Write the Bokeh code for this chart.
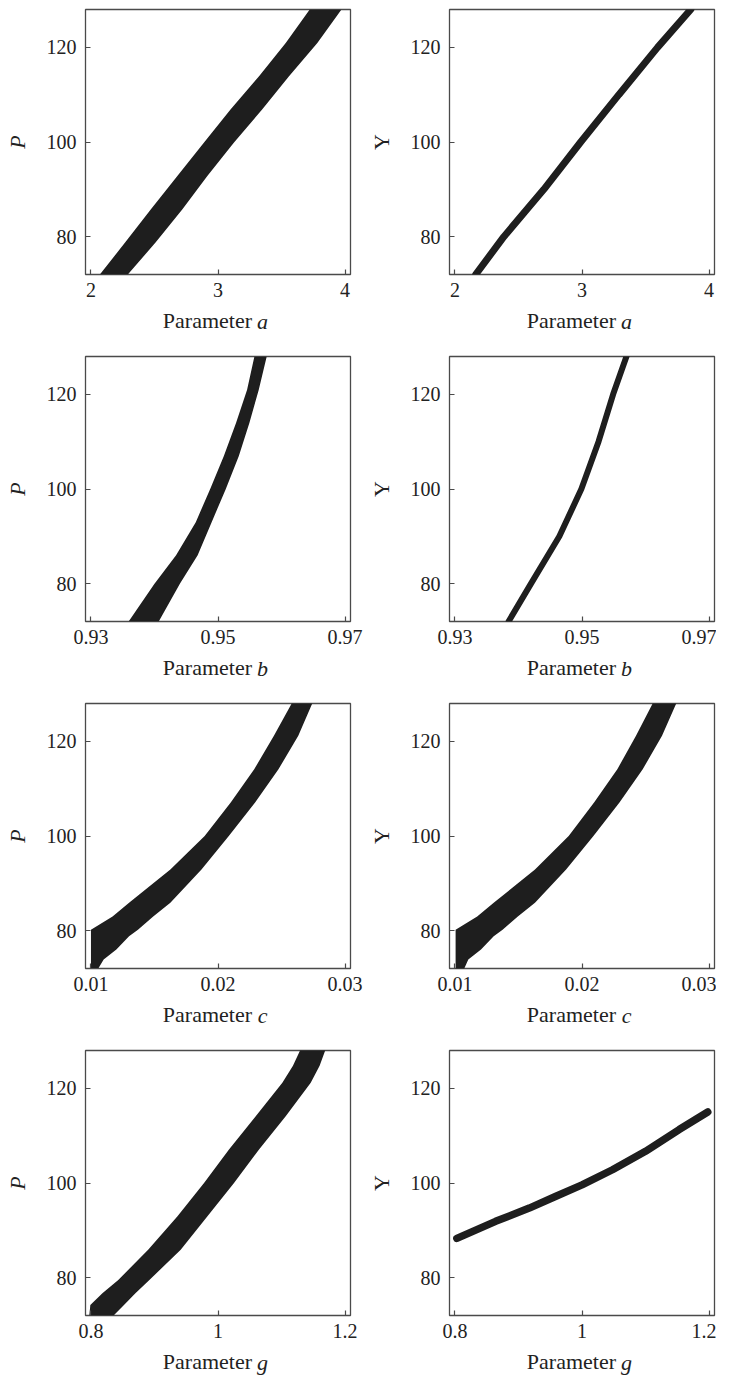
from bokeh.plotting import figure
from bokeh.layouts import column, row
from bokeh.models import Range1d, FixedTicker, LinearAxis
from bokeh.embed import file_html
from bokeh.resources import INLINE

# ---------------- data ----------------
y_ticks = [80, 100, 120]

# Panel: P vs parameter a (band, x-limits at each P level)
aP_P = [72, 78.8, 85.8, 92.8, 99.9, 106.9, 113.9, 120.9, 128]
aP_lo = [2.070, 2.270, 2.472, 2.680, 2.890, 3.100, 3.323, 3.533, 3.722]
aP_hi = [2.290, 2.510, 2.720, 2.916, 3.126, 3.349, 3.559, 3.782, 3.972]

# Panel: Y vs parameter a (thin curve)
aY_Y = [72, 80, 90, 100, 110, 120, 128]
aY_a = [2.163, 2.385, 2.700, 2.990, 3.290, 3.595, 3.856]

# Panel: P vs parameter b
bP_P = [72, 80, 86, 93, 100, 107, 114, 121, 128]
bP_lo = [0.93593, 0.94000, 0.94340, 0.94650, 0.94877, 0.95092, 0.95285, 0.95458, 0.95573]
bP_hi = [0.94067, 0.94400, 0.94680, 0.94900, 0.95123, 0.95328, 0.95495, 0.95642, 0.95767]

# Panel: Y vs parameter b (thin curve)
bY_Y = [72, 80, 90, 100, 110, 120, 128]
bY_b = [0.93844, 0.94197, 0.94644, 0.94990, 0.95260, 0.95490, 0.95700]

# Panel: P vs parameter c
cP_P = [72.1, 73.9, 76, 78.8, 80.2, 83, 85.9, 92.9, 100, 107.1, 114.1, 121.2, 128.2]
cP_lo = [0.01000, 0.01000, 0.01000, 0.01000, 0.01000, 0.01170, 0.01300, 0.01625, 0.01895,
         0.02100, 0.02285, 0.02440, 0.02584]
cP_hi = [0.01060, 0.01100, 0.01200, 0.01300, 0.01370, 0.01490, 0.01625, 0.01870, 0.02085,
         0.02292, 0.02476, 0.02632, 0.02745]

# Panel: Y vs parameter c
cY_Y = [71.5, 73.9, 76, 78.8, 80.2, 83, 85.9, 92.9, 100, 107.1, 114.1, 121.2, 128.2]
cY_lo = [0.01005, 0.01005, 0.01005, 0.01005, 0.01005, 0.01175, 0.01305, 0.01630, 0.01895,
         0.02095, 0.02278, 0.02425, 0.02560]
cY_hi = [0.01065, 0.01105, 0.01205, 0.01305, 0.01375, 0.01495, 0.01630, 0.01875, 0.02090,
         0.02295, 0.02478, 0.02630, 0.02745]

# Panel: P vs parameter g
gP_P = [72, 74.2, 76.7, 79.5, 85.9, 92.9, 100, 107.1, 114.1, 121.2, 124.8, 128.3]
gP_lo = [0.7974, 0.7990, 0.8180, 0.8430, 0.8900, 0.9359, 0.9780, 1.0173, 1.0594,
         1.1013, 1.1180, 1.1302]
gP_hi = [0.8356, 0.8520, 0.8700, 0.8920, 0.9413, 0.9831, 1.0252, 1.0646, 1.1066,
         1.1460, 1.1600, 1.1696]

# Panel: Y vs parameter g (thin curve)
gY_g = [0.803, 0.864, 0.917, 0.959, 1.000, 1.048, 1.100, 1.153, 1.198]
gY_Y = [88.3, 91.9, 94.7, 97.2, 99.6, 102.8, 106.7, 111.3, 115.0]

# ---------------- styling ----------------
FONT = "'Liberation Serif', 'Times New Roman', serif"
BAND = "#1e1e1e"
FRAME = "#4a4a4a"
TEXT = "#222222"
LBL_SIZE = "22px"


def text_axis(text, pos, italic, standoff):
    """An axis with a single label used to write part of the x title."""
    ax = LinearAxis(ticker=FixedTicker(ticks=[pos]),
                    major_label_overrides={pos: text})
    ax.axis_line_color = None
    ax.major_tick_line_color = None
    ax.minor_tick_line_color = None
    ax.major_tick_in = 0
    ax.major_tick_out = 0
    ax.major_label_text_font = FONT
    ax.major_label_text_font_size = LBL_SIZE
    ax.major_label_text_color = TEXT
    ax.major_label_text_font_style = "italic" if italic else "normal"
    ax.major_label_standoff = standoff
    return ax


def make_panel(xr, xticks, xlabels, ylabel, letter, right_col, last):
    p = figure(frame_width=265, frame_height=265,
               x_range=Range1d(*xr), y_range=Range1d(72, 128),
               output_backend="svg", toolbar_location=None,
               min_border_left=83 if right_col else 85,
               min_border_right=2 if right_col else 15,
               min_border_top=9, min_border_bottom=57 if last else 73)
    p.grid.visible = False
    p.outline_line_color = FRAME
    p.outline_line_width = 1.3
    p.background_fill_color = "white"
    p.border_fill_color = "white"

    xa = p.xaxis[0]
    ya = p.yaxis[0]
    xa.ticker = FixedTicker(ticks=xticks)
    xa.major_label_overrides = {t: s for t, s in zip(xticks, xlabels)}
    ya.ticker = FixedTicker(ticks=y_ticks)
    for ax in (xa, ya):
        ax.axis_line_color = None
        ax.major_tick_in = 5
        ax.major_tick_out = 0
        ax.major_tick_line_color = FRAME
        ax.major_tick_line_width = 1.2
        ax.minor_tick_line_color = None
        ax.major_label_text_font = FONT
        ax.major_label_text_font_size = "20px"
        ax.major_label_text_color = TEXT
    xa.major_label_standoff = 8
    ya.major_label_standoff = 9

    ya.axis_label = ylabel
    ya.axis_label_text_font = FONT
    ya.axis_label_text_font_size = LBL_SIZE
    ya.axis_label_text_color = TEXT
    ya.axis_label_text_font_style = "italic" if ylabel == "P" else "normal"
    ya.axis_label_standoff = 14

    # x title "Parameter <italic letter>" written with two label-only axes
    span = xr[1] - xr[0]
    pos_word = xr[0] + 0.46 * span
    pos_letter = xr[0] + 0.668 * span
    p.add_layout(text_axis("Parameter", pos_word, False, 8), "below")
    p.add_layout(text_axis(letter, pos_letter, True, -27), "below")
    return p


a_r, a_t, a_l = (1.957, 4.043), [2, 3, 4], ["2", "3", "4"]
b_r, b_t, b_l = (0.92914, 0.97086), [0.93, 0.95, 0.97], ["0.93", "0.95", "0.97"]
c_r, c_t, c_l = (0.00957, 0.03043), [0.01, 0.02, 0.03], ["0.01", "0.02", "0.03"]
g_r, g_t, g_l = (0.7914, 1.2086), [0.8, 1, 1.2], ["0.8", "1", "1.2"]

p1 = make_panel(a_r, a_t, a_l, "P", "a", False, False)
p1.harea(x1=aP_lo, x2=aP_hi, y=aP_P, fill_color=BAND)

p2 = make_panel(a_r, a_t, a_l, "Υ", "a", True, False)
p2.line(aY_a, aY_Y, line_width=7, line_color=BAND, line_cap="round")

p3 = make_panel(b_r, b_t, b_l, "P", "b", False, False)
p3.harea(x1=bP_lo, x2=bP_hi, y=bP_P, fill_color=BAND)

p4 = make_panel(b_r, b_t, b_l, "Υ", "b", True, False)
p4.line(bY_b, bY_Y, line_width=6, line_color=BAND, line_cap="round")

p5 = make_panel(c_r, c_t, c_l, "P", "c", False, False)
p5.harea(x1=cP_lo, x2=cP_hi, y=cP_P, fill_color=BAND)

p6 = make_panel(c_r, c_t, c_l, "Υ", "c", True, False)
p6.harea(x1=cY_lo, x2=cY_hi, y=cY_Y, fill_color=BAND)

p7 = make_panel(g_r, g_t, g_l, "P", "g", False, True)
p7.harea(x1=gP_lo, x2=gP_hi, y=gP_P, fill_color=BAND)

p8 = make_panel(g_r, g_t, g_l, "Υ", "g", True, True)
p8.line(gY_g, gY_Y, line_width=7.5, line_color=BAND, line_cap="round")

layout = column(row(p1, p2), row(p3, p4), row(p5, p6), row(p7, p8))

open("out.html", "w").write(file_html(layout, INLINE))
